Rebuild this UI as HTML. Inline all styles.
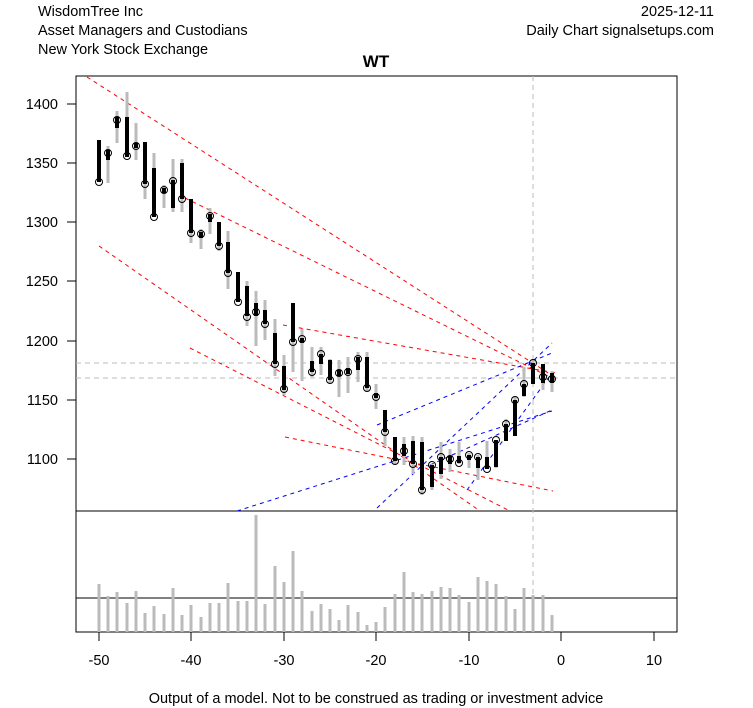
<!DOCTYPE html>
<html><head><meta charset="utf-8"><style>
body{margin:0;background:#fff;}
svg{display:block;font-family:"Liberation Sans",sans-serif;}
</style></head><body>
<svg width="753" height="708" viewBox="0 0 753 708" xmlns="http://www.w3.org/2000/svg">
<rect width="753" height="708" fill="#fff"/>
<g font-size="14.5" fill="#000">
<text x="38" y="16">WisdomTree Inc</text>
<text x="38" y="35">Asset Managers and Custodians</text>
<text x="38" y="54">New York Stock Exchange</text>
<text x="714" y="16" text-anchor="end">2025-12-11</text>
<text x="714" y="35" text-anchor="end">Daily Chart signalsetups.com</text>
<text x="376" y="67" text-anchor="middle" font-weight="bold" font-size="17">WT</text>
<text x="376" y="703" text-anchor="middle">Output of a model. Not to be construed as trading or investment advice</text>
</g>
<g stroke="#000" stroke-width="1" fill="none">
<rect x="76" y="76" width="601" height="556"/>
<line x1="76" y1="511" x2="677" y2="511"/>
<line x1="76" y1="598" x2="677" y2="598"/>
<path d="M76 104H67M76 163H67M76 222H67M76 281H67M76 341H67M76 400H67M76 459H67"/>
<path d="M99 632V641M191 632V641M284 632V641M376 632V641M469 632V641M561 632V641M654 632V641"/>
</g>
<g font-size="14.5" text-anchor="end">
<text x="58" y="109">1400</text><text x="58" y="168">1350</text><text x="58" y="227">1300</text>
<text x="58" y="286">1250</text><text x="58" y="346">1200</text><text x="58" y="405">1150</text><text x="58" y="464">1100</text>
</g>
<g font-size="14.5" text-anchor="middle">
<text x="99" y="665">-50</text><text x="191" y="665">-40</text><text x="284" y="665">-30</text>
<text x="376" y="665">-20</text><text x="469" y="665">-10</text><text x="561" y="665">0</text><text x="654" y="665">10</text>
</g>
<g stroke="#bbb" stroke-dasharray="5,4" fill="none">
<line x1="76" y1="363" x2="677" y2="363"/>
<line x1="76" y1="378" x2="677" y2="378"/>
<line x1="533" y1="76" x2="533" y2="632"/>
</g>
<path stroke="#bbb" stroke-width="3" fill="none" d="M99 632V584M108 632V596M117 632V592M127 632V603M136 632V591M145 632V613M154 632V606M164 632V614M173 632V588M182 632V615M191 632V605M201 632V617M210 632V603M219 632V603M228 632V583M238 632V601M247 632V601M256 632V515M265 632V604M275 632V566M284 632V582M293 632V551M302 632V591M312 632V611M321 632V604M330 632V609M339 632V620M348 632V605M358 632V612M367 632V625M376 632V622M385 632V607M395 632V594M404 632V572M413 632V592M422 632V594M432 632V591M441 632V587M450 632V588M459 632V595M469 632V602M478 632V577M487 632V581M496 632V584M506 632V596M515 632V609M524 632V588M533 632V595M543 632V595M552 632V615"/>
<g stroke="#f00" stroke-dasharray="4,4" fill="none" stroke-width="1">
<line x1="87" y1="77" x2="556" y2="378"/>
<line x1="185" y1="198" x2="556" y2="380"/>
<line x1="99" y1="246" x2="480" y2="511"/>
<line x1="190" y1="348" x2="510" y2="511"/>
<line x1="283" y1="325" x2="556" y2="373"/>
<line x1="285" y1="437" x2="553" y2="491"/>
</g>
<g stroke="#00f" stroke-dasharray="4,4" fill="none" stroke-width="1">
<line x1="237" y1="511" x2="552" y2="411"/>
<line x1="377" y1="508" x2="552" y2="343"/>
<line x1="377" y1="425" x2="552" y2="353"/>
<line x1="467" y1="490" x2="552" y2="373"/>
<line x1="430" y1="465" x2="552" y2="410"/>
</g>
<path stroke="#bbb" stroke-width="3" fill="none" d="M99 140V182M108 146V183M117 111V143M127 92V157M136 123V160M145 142V199M154 153V217M164 185V208M173 159V212M182 159V212M191 199V243M201 229V249M210 208V234M219 222V251M228 231V289M238 272V302M247 281V326M256 291V346M265 300V340M275 319V376M284 355V395M293 303V372M302 329V381M312 347V377M321 347V375M330 359V383M339 360V397M348 357V393M358 352V382M367 352V391M376 384V409M385 410V446M395 437V464M404 437V465M413 436V474M422 437V495M432 464V490M441 442V479M450 449V472M459 442V464M469 453V468M478 455V480M487 441V469M496 440V468M506 419V441M515 396V436M524 367V397M533 360V384M543 364V390M552 371V392"/>
<path stroke="#000" stroke-width="4" fill="none" d="M99 140V182M108 150V160M117 117V128M127 117V157M136 143V148M145 142V184M154 168V217M164 188V193M173 180V208M182 163V199M191 199V233M201 232V238M210 214V222M219 222V246M228 242V273M238 272V302M247 286V316M256 303V316M265 310V324M275 333V364M284 366V390M293 303V342M302 338V343M312 361V372M321 354V364M330 360V380M339 370V376M348 368V374M358 357V370M367 357V388M376 393V398M385 410V432M395 437V461M404 444V456M413 441V464M422 442V490M432 465V487M441 457V474M450 456V464M459 456V463M469 455V460M478 457V468M487 457V469M496 440V467M506 424V441M515 400V436M524 384V396M533 363V384M543 364V383M552 373V383"/>
<g fill="none" stroke="#000" stroke-width="1">
<circle cx="99" cy="182" r="3.5"/><circle cx="108" cy="153" r="3.5"/><circle cx="117" cy="120" r="3.5"/><circle cx="127" cy="156" r="3.5"/><circle cx="136" cy="146" r="3.5"/><circle cx="145" cy="184" r="3.5"/><circle cx="154" cy="217" r="3.5"/><circle cx="164" cy="190" r="3.5"/><circle cx="173" cy="181" r="3.5"/><circle cx="182" cy="199" r="3.5"/><circle cx="191" cy="233" r="3.5"/><circle cx="201" cy="234" r="3.5"/><circle cx="210" cy="216" r="3.5"/><circle cx="219" cy="246" r="3.5"/><circle cx="228" cy="273" r="3.5"/><circle cx="238" cy="302" r="3.5"/><circle cx="247" cy="317" r="3.5"/><circle cx="256" cy="312" r="3.5"/><circle cx="265" cy="324" r="3.5"/><circle cx="275" cy="364" r="3.5"/><circle cx="284" cy="389" r="3.5"/><circle cx="293" cy="342" r="3.5"/><circle cx="302" cy="339" r="3.5"/><circle cx="312" cy="372" r="3.5"/><circle cx="321" cy="354" r="3.5"/><circle cx="330" cy="380" r="3.5"/><circle cx="339" cy="373" r="3.5"/><circle cx="348" cy="372" r="3.5"/><circle cx="358" cy="359" r="3.5"/><circle cx="367" cy="388" r="3.5"/><circle cx="376" cy="397" r="3.5"/><circle cx="385" cy="432" r="3.5"/><circle cx="395" cy="461" r="3.5"/><circle cx="404" cy="451" r="3.5"/><circle cx="413" cy="464" r="3.5"/><circle cx="422" cy="490" r="3.5"/><circle cx="432" cy="465" r="3.5"/><circle cx="441" cy="457" r="3.5"/><circle cx="450" cy="459" r="3.5"/><circle cx="459" cy="463" r="3.5"/><circle cx="469" cy="455" r="3.5"/><circle cx="478" cy="457" r="3.5"/><circle cx="487" cy="469" r="3.5"/><circle cx="496" cy="440" r="3.5"/><circle cx="506" cy="424" r="3.5"/><circle cx="515" cy="400" r="3.5"/><circle cx="524" cy="384" r="3.5"/><circle cx="533" cy="363" r="3.5"/><circle cx="543" cy="377" r="3.5"/><circle cx="552" cy="379" r="3.5"/>
</g>
</svg>
</body></html>
